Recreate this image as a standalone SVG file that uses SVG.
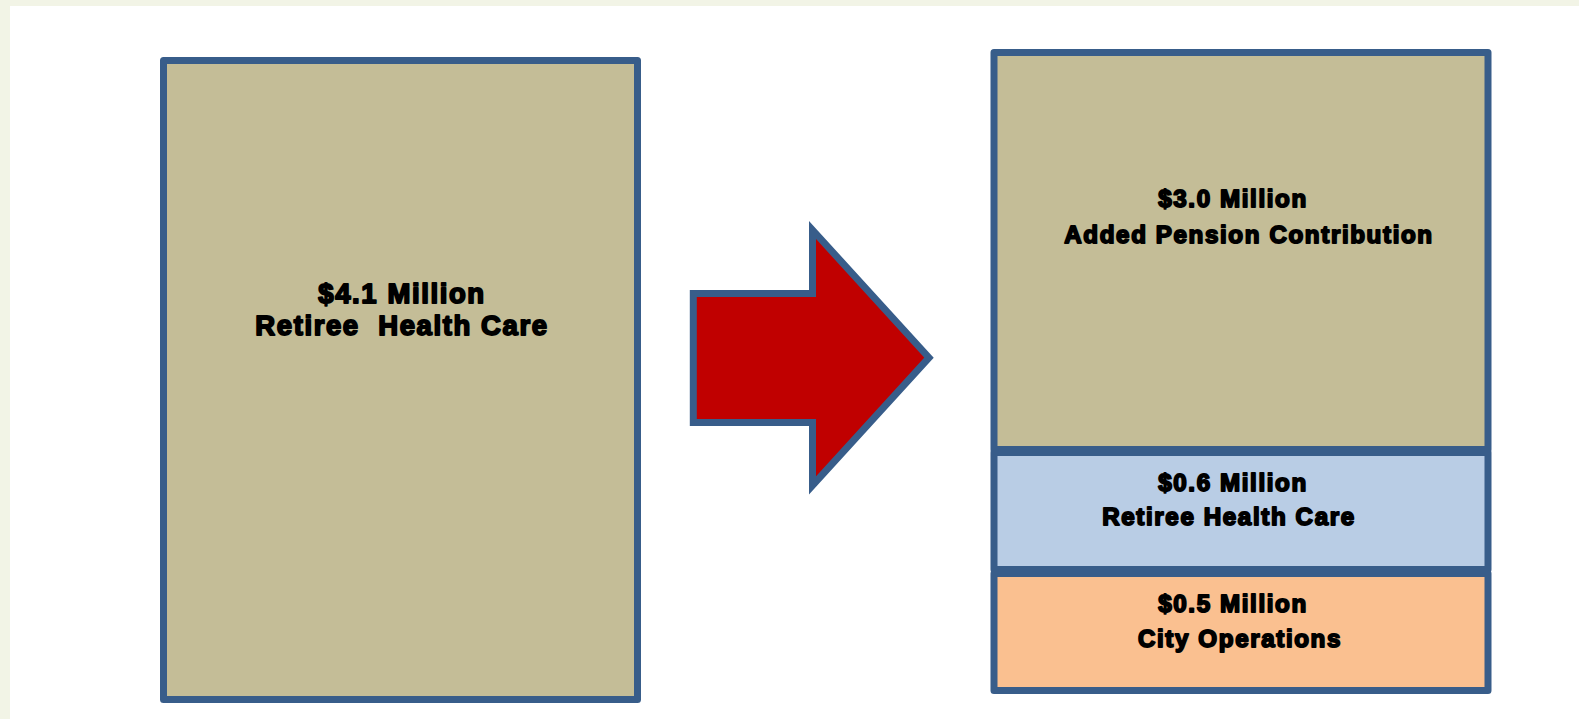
<svg xmlns="http://www.w3.org/2000/svg" width="1579" height="719" viewBox="0 0 1579 719">
<style>
.box{stroke:#385D8A;stroke-width:7;stroke-linejoin:round}
.t{font-family:"Liberation Sans",Arial,sans-serif;font-weight:bold;fill:#000;stroke:#000;stroke-width:1.8;stroke-linejoin:round;letter-spacing:1.6px;text-anchor:middle}
.big{font-size:27.5px}
.sm{font-size:24.2px}
</style>
<rect x="0" y="0" width="1579" height="719" fill="#F2F4E6"/>
<rect x="10" y="6" width="1569" height="713" fill="#FFFFFF"/>
<g id="left-box">
<rect class="box" x="163.5" y="60.5" width="474" height="639" fill="#C4BD97"/>
<text class="t big" x="402" y="303">$4.1 Million</text>
<text class="t big" x="402" y="335" xml:space="preserve">Retiree  Health Care</text>
</g>
<g id="connectors">
<polygon id="arrow" points="693.3,293.5 812.5,293.5 812.5,230 929,357.7 812.5,485.4 812.5,422.5 693.3,422.5" fill="#C00000" stroke="#385D8A" stroke-width="7" stroke-linejoin="miter" stroke-miterlimit="10"/>
</g>
<g id="pension-box">
<rect class="box" x="994" y="52.5" width="494" height="397" fill="#C4BD97"/>
<text class="t sm" x="1233" y="207">$3.0 Million</text>
<text class="t sm" x="1249" y="243">Added Pension Contribution</text>
</g>
<g id="health-box">
<rect class="box" x="994" y="452.5" width="494" height="117" fill="#B9CDE5"/>
<text class="t sm" x="1233" y="491">$0.6 Million</text>
<text class="t sm" x="1229" y="525">Retiree Health Care</text>
</g>
<g id="operations-box">
<rect class="box" x="994" y="573.5" width="494" height="117" fill="#FAC090"/>
<text class="t sm" x="1233" y="612">$0.5 Million</text>
<text class="t sm" x="1240" y="647">City Operations</text>
</g>
</svg>
